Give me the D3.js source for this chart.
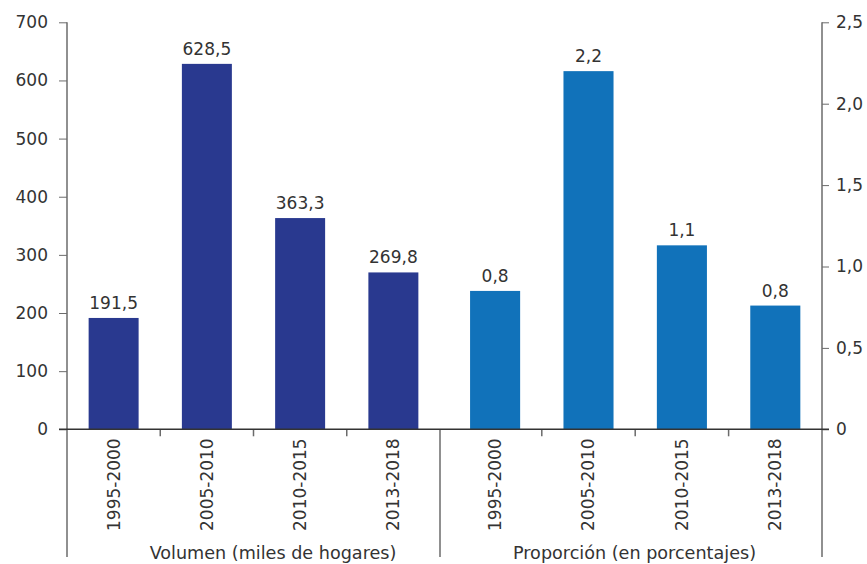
<!DOCTYPE html>
<html><head><meta charset="utf-8">
<script src="https://cdn.jsdelivr.net/npm/d3@7"></script>
<style>
body{margin:0;background:#fff;}
svg{display:block;}
text{font-family:"DejaVu Sans",sans-serif;fill:#333;}
</style></head>
<body><svg id="c" width="867" height="564"></svg>
<script>
const categories = ["1995-2000","2005-2010","2010-2015","2013-2018"];
const volumen = [191.5, 628.5, 363.3, 269.8];
const volumenLabels = ["191,5","628,5","363,3","269,8"];
const proporcion = [0.85, 2.2, 1.13, 0.76];
const proporcionLabels = ["0,8","2,2","1,1","0,8"];
const leftTicks = [0,100,200,300,400,500,600,700];
const rightTicks = [0,0.5,1,1.5,2,2.5];
const rightTickLabels = ["0","0,5","1,0","1,5","2,0","2,5"];
const groupTitles = ["Volumen (miles de hogares)","Proporción (en porcentajes)"];

const svg = d3.select("#c");
const y0 = 429.3, yTop = 22.3, yBottom = 557;
const xLeft = 67, xMid = 440, xRight = 822;
const axisColor = "#6b6b6b";

const yL = d3.scaleLinear().domain([0,700]).range([y0,yTop]);
const yR = d3.scaleLinear().domain([0,2.5]).range([y0,yTop]);
const xL = d3.scaleBand().domain(categories).range([xLeft, xMid]).paddingInner(0.464).paddingOuter(0.232);
const xR = d3.scaleBand().domain(categories).range([448.4, xRight]).paddingInner(0.464).paddingOuter(0.232);

// Bars
function drawBars(x, y, vals, labels, color){
  const g = svg.append("g");
  g.selectAll("rect").data(vals).enter().append("rect")
    .attr("x",(d,i)=>x(categories[i])).attr("width",x.bandwidth())
    .attr("y",d=>y(d)).attr("height",d=>y(0)-y(d)).attr("fill",color);
  g.selectAll("text").data(vals).enter().append("text")
    .attr("x",(d,i)=>x(categories[i])+x.bandwidth()/2)
    .attr("y",d=>y(d)-9)
    .attr("text-anchor","middle").attr("font-size",17)
    .text((d,i)=>labels[i]);
}
drawBars(xL, yL, volumen, volumenLabels, "#29398f");
drawBars(xR, yR, proporcion, proporcionLabels, "#1172ba");

// Left axis
const gl = svg.append("g").attr("transform",`translate(${xLeft},0)`)
  .call(d3.axisLeft(yL).tickValues(leftTicks).tickSize(8).tickPadding(11));
gl.select(".domain").remove();
gl.selectAll(".tick line").attr("stroke",axisColor);
gl.selectAll(".tick text").attr("font-size",17).attr("font-family","DejaVu Sans").attr("fill","#333");
svg.append("line").attr("x1",xLeft).attr("x2",xLeft).attr("y1",yTop).attr("y2",yBottom).attr("stroke",axisColor).attr("stroke-width",1.5);

// Right axis
const gr = svg.append("g").attr("transform",`translate(${xRight},0)`)
  .call(d3.axisRight(yR).tickValues(rightTicks).tickSize(7).tickPadding(7).tickFormat((d,i)=>rightTickLabels[i]));
gr.select(".domain").remove();
gr.selectAll(".tick line").attr("stroke",axisColor);
gr.selectAll(".tick text").attr("font-size",17).attr("font-family","DejaVu Sans").attr("fill","#333");
svg.append("line").attr("x1",xRight).attr("x2",xRight).attr("y1",yTop).attr("y2",yBottom).attr("stroke",axisColor).attr("stroke-width",1.5);

// Middle divider
svg.append("line").attr("x1",xMid).attr("x2",xMid).attr("y1",y0).attr("y2",yBottom).attr("stroke",axisColor).attr("stroke-width",1.5);

// Bottom category axes
function catAxis(x){
  const g = svg.append("g").attr("transform",`translate(0,${y0})`)
    .call(d3.axisBottom(x).tickSize(0).tickPadding(0));
  g.select(".domain").remove();
  g.selectAll(".tick text")
    .attr("transform","rotate(-90)")
    .attr("text-anchor","end")
    .attr("x",-9).attr("y",0).attr("dy","0.35em")
    .attr("font-size",17).attr("font-family","DejaVu Sans").attr("fill","#333");
  const step = x.step();
  categories.slice(1).forEach(c=>{
    const xb = x(c) - (step - x.bandwidth())/2;
    svg.append("line").attr("x1",xb).attr("x2",xb).attr("y1",y0).attr("y2",y0+7).attr("stroke",axisColor).attr("stroke-width",1.5);
  });
}
catAxis(xL); catAxis(xR);

// Baseline
svg.append("line").attr("x1",59).attr("x2",829).attr("y1",y0).attr("y2",y0).attr("stroke","#333").attr("stroke-width",1.5);

// Group titles
svg.append("text").attr("x",273).attr("y",559).attr("text-anchor","middle").attr("font-size",17.6).text(groupTitles[0]);
svg.append("text").attr("x",634.5).attr("y",559).attr("text-anchor","middle").attr("font-size",17.6).text(groupTitles[1]);
</script></body></html>
